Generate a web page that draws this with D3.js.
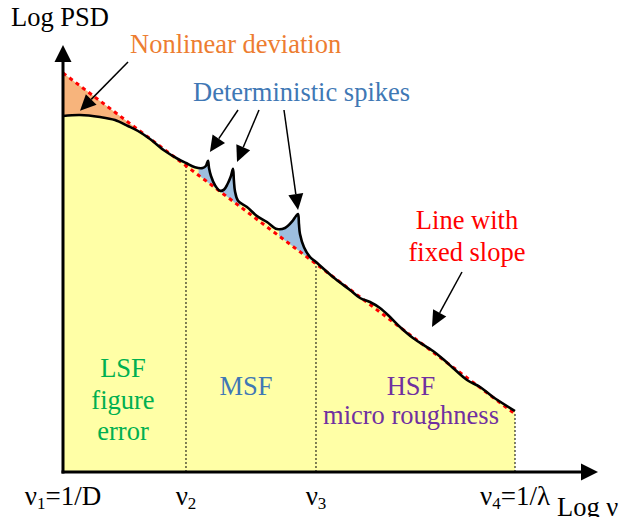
<!DOCTYPE html>
<html>
<head>
<meta charset="utf-8">
<script src="https://cdn.jsdelivr.net/npm/d3@7"></script>
<style>
  body { margin: 0; background: #fff; }
  svg { display: block; }
  text { font-family: "Liberation Serif", "Times New Roman", serif; }
</style>
</head>
<body>
<svg id="chart" width="620" height="517"></svg>
<script>
// Schematic PSD: log spatial frequency vs log PSD (arbitrary units)
const logNu = [0, 0.376, 0.819, 1.15, 1.438, 1.659, 1.925, 2.257, 2.544, 2.721, 2.92, 3.09, 3.16, 3.208,
  3.23, 3.274, 3.363, 3.473, 3.562, 3.64, 3.71, 3.761, 3.78, 3.805, 3.872, 4.071, 4.292, 4.513,
  4.735, 4.912, 5.066, 5.155, 5.199, 5.22, 5.243, 5.332, 5.465, 5.597, 5.973, 6.35, 6.571, 6.792,
  7.013, 7.235, 7.456, 7.743, 8.186, 8.407, 8.628, 8.938, 9.226, 9.513, 10];
const logPsd = [8.9, 8.925, 8.875, 8.8, 8.65, 8.525, 8.325, 8.025, 7.825, 7.725, 7.62, 7.6, 7.65, 7.78,
  7.6, 7.4, 7.17, 7.03, 7.06, 7.2, 7.38, 7.58, 7.3, 7.02, 6.78, 6.625, 6.4, 6.25,
  6.075, 6.1, 6.26, 6.4, 6.45, 6.2, 5.95, 5.62, 5.375, 5.25, 4.875, 4.55, 4.35, 4.25,
  4.1, 3.875, 3.625, 3.35, 3.025, 2.825, 2.6, 2.3, 2.125, 1.875, 1.525];

// Fixed-slope reference line
const fitNu = [0, 10];
const fitPsd = [9.975, 1.45];

// Band boundaries on the frequency axis and their labels
const bandNu = [0, 2.721, 5.597, 10];
const bandSym = ["ν", "ν", "ν", "ν"];
const bandSub = ["1", "2", "3", "4"];
const bandTail = ["=1/D", "", "", "=1/λ"];

// Frequency ranges of the deviations from the fixed slope
const nonlinearRange = [0, 1.7];
const spikeRanges = [[3.0, 3.42], [3.45, 3.92], [4.78, 5.56]];

// Annotation arrows: [startNu, startPsd, tipNu, tipPsd]
const nonlinearArrow = [1.438, 10.25, 0.376, 9.03];
const spikeArrows = [[3.872, 9.05, 3.25, 8.0], [4.336, 9.05, 3.85, 7.75], [4.889, 9.05, 5.2, 6.55]];
const slopeArrow = [8.827, 5.0, 8.164, 3.625];

const svg = d3.select("#chart");
const x = d3.scaleLinear().domain([0, 10]).range([63, 515]);
const y = d3.scaleLinear().domain([0, 10]).range([472, 72]);

const pts = logNu.map((n, i) => [n, logPsd[i]]);
const fit = d3.scaleLinear().domain(fitNu).range(fitPsd);
const psdAt = n => {
  const i = d3.bisector(d => d[0]).left(pts, n);
  if (i <= 0) return pts[0][1];
  if (i >= pts.length) return pts[pts.length - 1][1];
  const a = pts[i - 1], b = pts[i];
  return a[1] + (b[1] - a[1]) * (n - a[0]) / (b[0] - a[0]);
};
const curve = d3.curveCatmullRom.alpha(0.5);

// Clip paths for the deviation ranges
const defs = svg.append("defs");
function clipFor(id, ranges) {
  const cp = defs.append("clipPath").attr("id", id);
  ranges.forEach(r => cp.append("rect")
    .attr("x", x(r[0])).attr("width", x(r[1]) - x(r[0]))
    .attr("y", 0).attr("height", 517));
  return `url(#${id})`;
}

// Area under the PSD curve
svg.append("path")
  .attr("d", d3.area().x(d => x(d[0])).y0(y(0)).y1(d => y(d[1])).curve(curve)(pts))
  .attr("fill", "#FFFFA6");

// Gap between the fixed slope and the curve
const gap = d3.area().x(d => x(d[0])).y0(d => y(fit(d[0]))).y1(d => y(d[1])).curve(curve);
svg.append("path").attr("d", gap(pts)).attr("fill", "#F7B47C")
  .attr("clip-path", clipFor("clipNonlinear", [nonlinearRange]));
svg.append("path").attr("d", gap(pts)).attr("fill", "#9DBEDF")
  .attr("clip-path", clipFor("clipSpikes", spikeRanges));

// Band boundaries
svg.selectAll("line.band").data(bandNu.slice(1)).join("line")
  .attr("class", "band")
  .attr("x1", d => x(d)).attr("x2", d => x(d))
  .attr("y1", y(0)).attr("y2", d => y(psdAt(d)) + 1)
  .attr("stroke", "#000").attr("stroke-width", 1).attr("stroke-dasharray", "2,2");

// Fixed-slope line
svg.append("line")
  .attr("x1", x(fitNu[0])).attr("y1", y(fitPsd[0]))
  .attr("x2", x(fitNu[1])).attr("y2", y(fitPsd[1]))
  .attr("stroke", "#FF0000").attr("stroke-width", 3).attr("stroke-dasharray", "4,4");

// PSD curve
svg.append("path")
  .attr("d", d3.line().x(d => x(d[0])).y(d => y(d[1])).curve(curve)(pts))
  .attr("fill", "none").attr("stroke", "#000").attr("stroke-width", 2.6)
  .attr("stroke-linejoin", "round");

// Arrow helper
function arrow(x1, y1, x2, y2, len, half, width) {
  const a = Math.atan2(y2 - y1, x2 - x1);
  const bx = x2 - len * Math.cos(a), by = y2 - len * Math.sin(a);
  svg.append("line").attr("x1", x1).attr("y1", y1).attr("x2", bx).attr("y2", by)
    .attr("stroke", "#000").attr("stroke-width", width);
  const px = -Math.sin(a) * half, py = Math.cos(a) * half;
  svg.append("polygon")
    .attr("points", `${x2},${y2} ${bx + px},${by + py} ${bx - px},${by - py}`)
    .attr("fill", "#000");
}

// Axes
const xAxisEnd = 598, yAxisTop = 45;
arrow(x(0), y(0) + 1.5, x(0), yAxisTop, 17, 8.5, 3);
arrow(x(0) - 1.5, y(0), xAxisEnd, y(0), 17, 8.5, 3);

// Annotation arrows
const ann = [nonlinearArrow, ...spikeArrows, slopeArrow];
ann.forEach(a => arrow(x(a[0]), y(a[1]), x(a[2]), y(a[3]), 16, 7.5, 1.5));

// Axis titles
svg.append("text").attr("x", 11).attr("y", 26).attr("font-size", 26.5).text("Log PSD");
svg.append("text").attr("x", 557).attr("y", 516).attr("font-size", 26.5).text("Log ν");

// Frequency labels
const fl = svg.append("g").attr("font-size", 27).attr("text-anchor", "middle");
bandNu.forEach((n, i) => {
  const t = fl.append("text").attr("x", x(n)).attr("y", 505);
  t.append("tspan").text(bandSym[i]);
  t.append("tspan").attr("font-size", 17).attr("dy", 4).text(bandSub[i]);
  t.append("tspan").attr("dy", -4).text(bandTail[i]);
});

// Annotation texts
function label(lines, cx, y0, dy, color, anchor) {
  const t = svg.append("text").attr("font-size", 26.5).attr("fill", color)
    .attr("text-anchor", anchor || "middle");
  lines.forEach((s, i) => t.append("tspan").attr("x", cx).attr("y", y0 + i * dy).text(s));
}
label(["Nonlinear deviation"], 130, 53, 0, "#ED7D31", "start");
label(["Deterministic spikes"], 193, 101, 0, "#3F78B5", "start");
label(["Line with", "fixed slope"], 467, 229, 32, "#FF0000");
label(["LSF", "figure", "error"], 123, 377, 31.5, "#00B050");
label(["MSF"], 246, 395, 0, "#3F78B5");
label(["HSF", "micro roughness"], 411, 395, 29, "#7030A0");
</script>
</body>
</html>
